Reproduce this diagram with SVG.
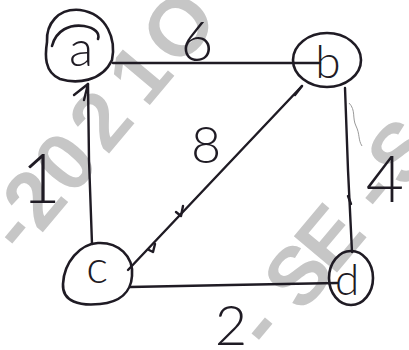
<svg xmlns="http://www.w3.org/2000/svg" width="409" height="350" viewBox="0 0 409 350">
<style>
.wm{font-family:"Liberation Sans",Arial,sans-serif;font-weight:bold;font-size:82px;fill:#c6c6c6}
.node{fill:none;stroke:#1f1b24;stroke-width:2.6;stroke-linecap:round;stroke-linejoin:round}
.edge{fill:none;stroke:#1f1b24;stroke-width:2.4;stroke-linecap:round;stroke-linejoin:round}
.lbl{font-family:Lato,"DejaVu Sans",sans-serif;font-weight:300;fill:#1f1b24;text-anchor:middle}
</style>
<rect width="409" height="350" fill="#ffffff"/>
<g id="watermark">
<text class="wm" transform="translate(55.7,217.1) rotate(-50)" x="-51.4 -22.8 25.6 80.2 141.2 180 193.1" y="0">-2021 O</text>
<text class="wm" transform="translate(278.3,342.3) rotate(-50)" x="-13.7 36.7 85.7 163.3 197.7" y="0">-SE-S</text>
</g>
<g id="connectors">
<path class="edge" d="M113,63 L200,63 L320,63"/>
<path class="edge" d="M88,84 L89,160 L92,244"/>
<path class="edge" d="M74,95 L88,84 L84,100"/>
<path class="edge" d="M302,86 L215,178 L128,270"/>
<path class="edge" d="M295,95 L302,86"/>
<path class="edge" d="M176,212 L181,216 L183,206"/>
<path class="edge" d="M149,250 L153,252 L155,244"/>
<path class="edge" d="M345,88 L348,170 L352,252"/>
<path class="edge" d="M348,196 L351,204"/>
<path d="M349,103 C356,110 352,118 356,126 C360,134 358,140 362,146" fill="none" stroke="#9a9a9a" stroke-width="1"/>
<path class="edge" d="M130,287 L230,285 L337,283"/>
</g>
<g id="node-a">
<path class="node" d="M112,60 C116,40 108,14 80,10 C58,8 46,24 47,42 C45,55 44,72 60,79 C76,84 102,82 112,60 Z"/>
<path class="node" d="M52,46 C56,30 70,24 84,26 C95,28 100,33 98,39"/>
<text class="lbl" x="81" y="66" font-size="50">a</text>
</g>
<g id="node-b">
<ellipse class="node" cx="327" cy="60" rx="34" ry="27"/>
<text class="lbl" x="328" y="78" font-size="46">b</text>
</g>
<g id="node-c">
<path class="node" d="M132,276 C134,256 118,242 98,243 C80,244 64,262 63,284 C62,302 80,306 100,304 C120,302 131,292 132,276 Z"/>
<text class="lbl" x="97" y="283" font-size="46">c</text>
</g>
<g id="node-d">
<ellipse class="node" cx="351" cy="278" rx="22" ry="27"/>
<text class="lbl" x="347" y="295" font-size="44">d</text>
</g>
<g id="labels">
<text class="lbl" x="197" y="61" font-size="56">6</text>
<text class="lbl" x="206" y="163" font-size="52">8</text>
<text class="lbl" x="41" y="203" font-size="68">1</text>
<text class="lbl" x="385" y="202" font-size="66">4</text>
<text class="lbl" x="231" y="345" font-size="56">2</text>
</g>
</svg>
